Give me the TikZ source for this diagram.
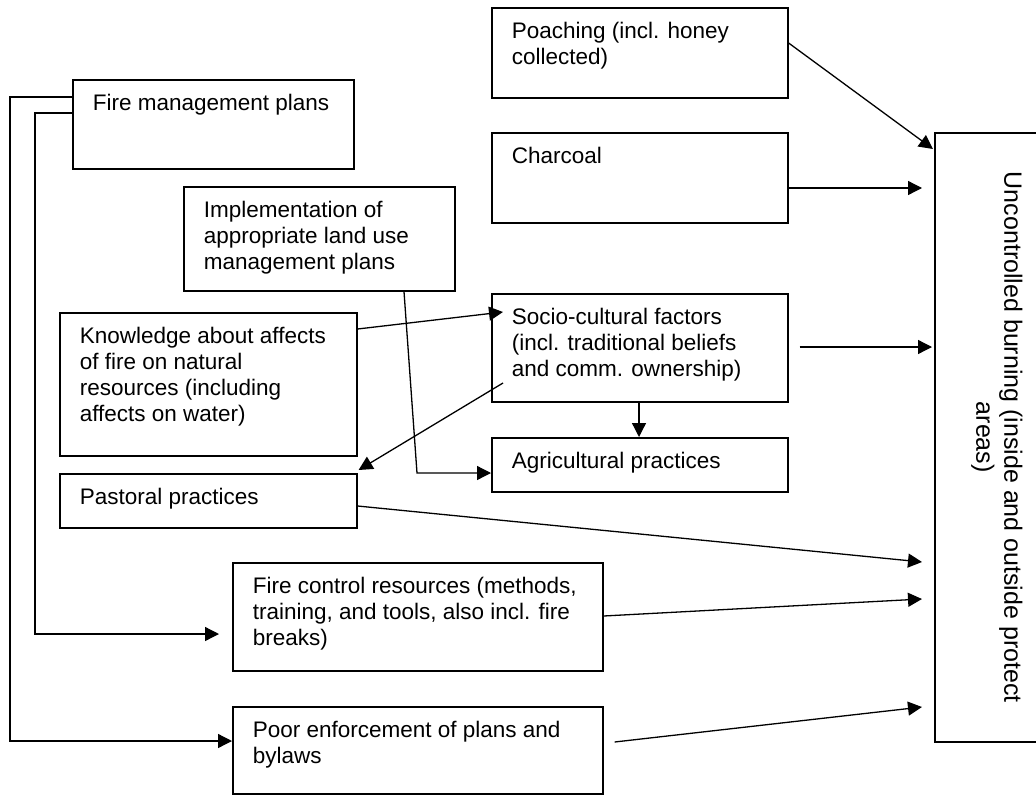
\documentclass[tikz,border=0pt]{standalone}
\usepackage{fontspec}
\setmainfont{Liberation Sans}
\usetikzlibrary{arrows.meta,calc}

% text block of a box: 20pt left padding, fixed height, top aligned
\newcommand{\cellbox}[3]{\hspace*{20pt}\parbox[t][#2][t]{#1}{\raggedright\rule{0pt}{20pt}#3}}

\tikzset{
  cell/.style={draw, line width=1.6pt, anchor=north west, inner xsep=0pt,
    inner ysep=11pt, font=\fontsize{22.5pt}{25.8pt}\selectfont},
  link/.style={line width=1.3pt, -{Triangle[length=14pt,width=14pt]}},
}

\begin{document}
\begin{tikzpicture}[x=1pt,y=-1pt]
\useasboundingbox (0,0) rectangle (1036,795);
\fill[white] (0,0) rectangle (1036,795);
\clip (0,0) rectangle (1036,795);

% causes
\node[cell] (poach) at (491,7) {\cellbox{276pt}{68pt}{Poaching (incl. honey\\collected)}};
\node[cell] (charcoal) at (491,132) {\cellbox{276pt}{68pt}{Charcoal}};
\node[cell] (fmp) at (72,79) {\cellbox{261pt}{67pt}{Fire management plans}};
\node[cell] (impl) at (183,186) {\cellbox{251pt}{82pt}{Implementation of\\appropriate land use\\management plans}};
\node[cell] (know) at (59,312) {\cellbox{277pt}{121pt}{Knowledge about affects\\of fire on natural\\resources (including\\affects on water)}};
\node[cell] (past) at (59,473) {\cellbox{277pt}{32pt}{Pastoral practices}};
\node[cell] (socio) at (491,293) {\cellbox{276pt}{86pt}{Socio-cultural factors\\(incl. traditional beliefs\\and comm. ownership)}};
\node[cell] (agri) at (491,437) {\cellbox{276pt}{32pt}{Agricultural practices}};
\node[cell] (firec) at (232,562) {\cellbox{350pt}{86pt}{Fire control resources (methods,\\training, and tools, also incl. fire\\breaks)}};
\node[cell] (poor) at (232,706) {\cellbox{350pt}{65pt}{Poor enforcement of plans and\\bylaws}};

% effect
\node[draw, line width=1.6pt, anchor=north west, minimum width=124pt,
  minimum height=609pt, inner sep=0pt] (unc) at (934,132) {};
\node[rotate=-90, align=center, font=\fontsize{25pt}{28pt}\selectfont] (unctext)
  at (unc.center) {Uncontrolled burning (inside and outside protect\\areas)};

% connectors
\draw[link] (fmp.west |- 0,97) -- (10,97) |- (poor.west |- 0,741);
\draw[link] (fmp.west |- 0,113) -- (35,113) |- ($(firec.west |- 0,634)+(-13,0)$);
\draw[link] (impl.south -| 404,0) -- (417,473) -- (agri.west |- 0,473);
\draw[link] (know.east |- 0,329) -- ($(socio.west |- 0,312)+(12,0)$);
\draw[link] ($(socio.west |- 0,383)+(12,0)$) -- ($(past.north east)+(1,-3)$);
\draw[link] (socio.south -| 639,0) -- (agri.north -| 639,0);
\draw[link] ($(socio.east |- 0,347)+(11,0)$) -- ($(unc.west |- 0,347)+(-2,0)$);
\draw[link] (poach.east |- 0,43) -- ($(unc.west |- 0,149)+(-1,0)$);
\draw[link] (charcoal.east |- 0,188) -- ($(unc.west |- 0,188)+(-12,0)$);
\draw[link] (past.east |- 0,506) -- ($(unc.west |- 0,562)+(-12,0)$);
\draw[link] (firec.east |- 0,616) -- ($(unc.west |- 0,599)+(-12,0)$);
\draw[link] ($(poor.east |- 0,742)+(11,0)$) -- ($(unc.west |- 0,707)+(-12,0)$);
\end{tikzpicture}
\end{document}
